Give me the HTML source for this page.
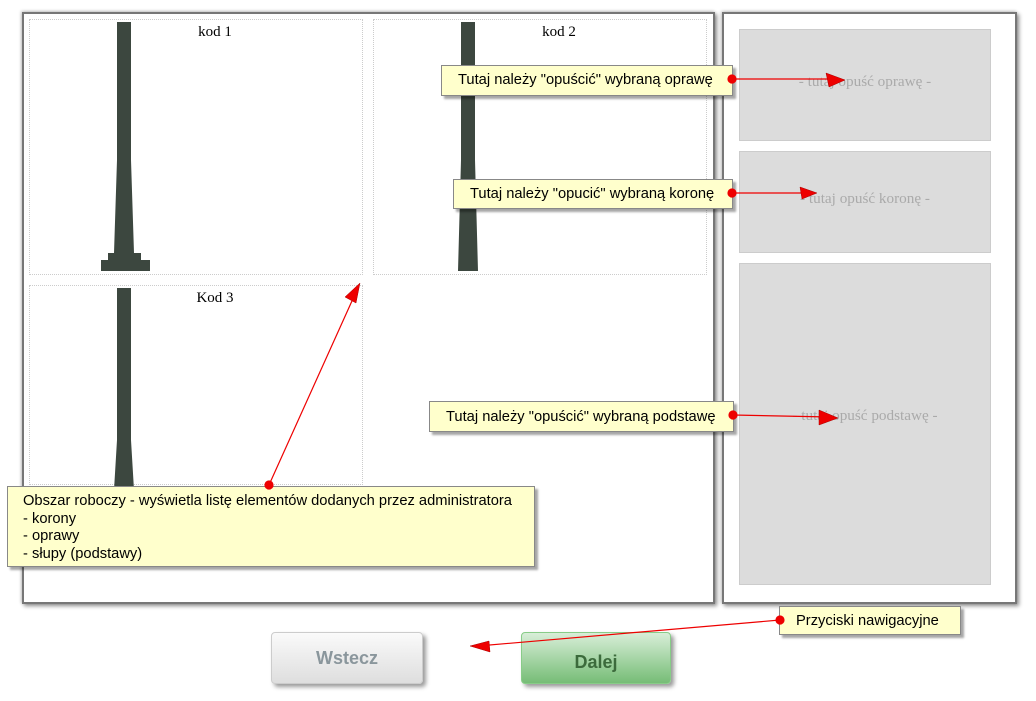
<!DOCTYPE html>
<html><head><meta charset="utf-8"><style>
body{margin:0;width:1036px;height:701px;background:#fff;position:relative;overflow:hidden;font-family:"Liberation Sans",sans-serif}
.a{position:absolute;box-sizing:border-box}
.panel{border:2px solid #777;box-shadow:2px 2px 4px rgba(0,0,0,.45),-1px -1px 3px rgba(0,0,0,.2);background:#fff}
.cell{border:1px dotted #ccc}
.lbl{font-family:"Liberation Serif",serif;font-size:15px;color:#000;position:absolute;width:100%;text-align:center}
.pole{background:#3c473f}
.gb{background:#dcdcdc;border:1px solid #ccc;font-family:"Liberation Serif",serif;font-size:15.2px;color:#aaa;text-align:center}
.note{background:#ffffcc;border:1px solid #888;box-shadow:3px 3px 2px rgba(0,0,0,.35);font-size:14.7px;color:#000}
.btn{border-radius:4px;box-shadow:3px 3px 4px rgba(0,0,0,.4);font-weight:bold;font-size:18px;text-align:center;line-height:51px}
</style></head><body>
<div class="a panel" style="left:22px;top:12px;width:693px;height:592px"></div>
<div class="a panel" style="left:722px;top:12px;width:295px;height:592px"></div>

<div class="a cell" style="left:29px;top:19px;width:334px;height:256px"><div class="lbl" style="top:4px;left:19px">kod 1</div></div>
<div class="a cell" style="left:373px;top:19px;width:334px;height:256px"><div class="lbl" style="top:4px;left:19px">kod 2</div></div>
<div class="a cell" style="left:29px;top:285px;width:334px;height:200px"><div class="lbl" style="top:4px;left:19px">Kod 3</div></div>

<svg class="a" style="left:0;top:0" width="1036" height="701">
<polygon fill="#3c473f" points="117,22 131,22 131,160 134,253 114,253 117,160"/>
<rect fill="#3c473f" x="108" y="253" width="33" height="10"/>
<rect fill="#3c473f" x="101" y="260" width="49" height="11"/>
<polygon fill="#3c473f" points="461,22 475,22 475,160 478,271 458,271 461,160"/>
<polygon fill="#3c473f" points="117,288 131,288 131,440 134,490 114,490 117,440"/>
</svg>

<div class="a gb" style="left:739px;top:29px;width:252px;height:112px;padding-top:43px">- tutaj opuść oprawę -</div>
<div class="a gb" style="left:739px;top:151px;width:252px;height:102px;padding-top:38px">- tutaj opuść koronę -</div>
<div class="a gb" style="left:739px;top:263px;width:252px;height:322px;padding-top:143px">- tutaj opuść podstawę -</div>

<div class="a note" style="left:441px;top:65px;width:292px;height:31px;padding:6px 0 0 16px">Tutaj należy "opuścić" wybraną oprawę</div>
<div class="a note" style="left:453px;top:179px;width:280px;height:30px;padding:6px 0 0 16px">Tutaj należy "opucić" wybraną koronę</div>
<div class="a note" style="left:429px;top:401px;width:305px;height:31px;padding:7px 0 0 16px">Tutaj należy "opuścić" wybraną podstawę</div>
<div class="a note" style="left:7px;top:486px;width:528px;height:81px;padding:6px 0 0 15px;line-height:17.5px">Obszar roboczy - wyświetla listę elementów dodanych przez administratora<br>- korony<br>- oprawy<br>- słupy (podstawy)</div>
<div class="a note" style="left:779px;top:606px;width:182px;height:29px;padding:6px 0 0 16px">Przyciski nawigacyjne</div>

<div class="a btn" style="left:271px;top:632px;width:152px;height:52px;background:linear-gradient(#fafafa,#dedede);border:1px solid #ccc;color:#8a969c">Wstecz</div>
<div class="a btn" style="left:521px;top:632px;width:150px;height:52px;background:linear-gradient(#d8eed8,#76bd76);border:1px solid #8c8;color:#3c6b3c;padding-top:4px">Dalej</div>

<svg class="a" style="left:0;top:0" width="1036" height="701">
<g stroke="#e00" stroke-width="1.2" fill="#e00">
<line x1="732" y1="79" x2="835" y2="79"/><polygon points="845,80 826,73 829,87" stroke="#a00" stroke-width=".5"/>
<line x1="732" y1="193" x2="810" y2="193"/><polygon points="817,193 800,187 802,199" stroke="#a00" stroke-width=".5"/>
<line x1="733" y1="415" x2="830" y2="417"/><polygon points="838,418 819,410 819,425" stroke="#a00" stroke-width=".5"/>
<line x1="269" y1="485" x2="356" y2="292"/><polygon points="360,283 345,297 356,303" stroke="#a00" stroke-width=".5"/>
<line x1="780" y1="620" x2="478" y2="646"/><polygon points="470,646 489,641 490,652" stroke="#a00" stroke-width=".5"/>
<circle cx="732" cy="79" r="4"/><circle cx="732" cy="193" r="4"/><circle cx="733" cy="415" r="4"/><circle cx="269" cy="485" r="4"/><circle cx="780" cy="620" r="4"/>
</g></svg>
</body></html>
